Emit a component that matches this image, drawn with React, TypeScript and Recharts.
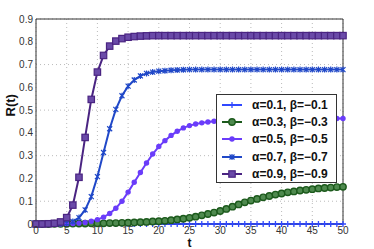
import {
  CartesianGrid,
  Legend,
  Line,
  LineChart,
  ReferenceLine,
  XAxis,
  YAxis,
} from "recharts";

const t = [
  0, 1, 2, 3, 4, 5, 6, 7, 8, 9, 10, 11, 12, 13, 14, 15, 16, 17, 18, 19, 20,
  21, 22, 23, 24, 25, 26, 27, 28, 29, 30, 31, 32, 33, 34, 35, 36, 37, 38, 39,
  40, 41, 42, 43, 44, 45, 46, 47, 48, 49, 50,
];

const a01 = [
  0, 0, 0, 0, 0, 0, 0, 0, 0, 0, 0, 0, 0, 0, 0, 0, 0, 0, 0, 0, 0, 0, 0, 0, 0,
  0, 0, 0, 0, 0, 0, 0, 0, 0, 0, 0, 0, 0, 0, 0, 0, 0, 0, 0, 0, 0, 0, 0, 0, 0, 0,
];

const a03 = [
  0, 0, 0, 0.001, 0.001, 0.001, 0.002, 0.002, 0.002, 0.003, 0.003, 0.003,
  0.004, 0.004, 0.005, 0.006, 0.007, 0.008, 0.009, 0.011, 0.012, 0.014, 0.017,
  0.02, 0.023, 0.027, 0.032, 0.038, 0.044, 0.05, 0.057, 0.066, 0.076, 0.086,
  0.095, 0.103, 0.11, 0.117, 0.123, 0.129, 0.134, 0.139, 0.143, 0.147, 0.15,
  0.153, 0.156, 0.158, 0.16, 0.162, 0.163,
];

const a05 = [
  0, 0, 0, 0, 0, 0.001, 0.002, 0.004, 0.007, 0.012, 0.019, 0.03, 0.046, 0.069,
  0.1, 0.14, 0.183, 0.226, 0.268, 0.307, 0.34, 0.366, 0.389, 0.407, 0.422,
  0.432, 0.439, 0.444, 0.448, 0.451, 0.453, 0.455, 0.456, 0.457, 0.458, 0.459,
  0.46, 0.46, 0.461, 0.461, 0.461, 0.462, 0.462, 0.462, 0.462, 0.462, 0.462,
  0.463, 0.463, 0.463, 0.463,
];

const a07 = [
  0, 0, 0, 0.001, 0.002, 0.004, 0.011, 0.028, 0.062, 0.12, 0.208, 0.314, 0.418,
  0.503, 0.563, 0.605, 0.632, 0.65, 0.661, 0.667, 0.671, 0.673, 0.675, 0.676,
  0.677, 0.678, 0.678, 0.678, 0.678, 0.678, 0.678, 0.678, 0.678, 0.678, 0.678,
  0.678, 0.678, 0.678, 0.678, 0.678, 0.678, 0.678, 0.678, 0.678, 0.678, 0.678,
  0.678, 0.678, 0.678, 0.678, 0.678,
];

const a09 = [
  0, 0, 0.001, 0.003, 0.009, 0.028, 0.083, 0.205, 0.38, 0.547, 0.667, 0.74,
  0.781, 0.803, 0.814, 0.82, 0.823, 0.825, 0.826, 0.827, 0.827, 0.827, 0.827,
  0.827, 0.827, 0.827, 0.827, 0.827, 0.827, 0.827, 0.827, 0.827, 0.827, 0.827,
  0.827, 0.827, 0.827, 0.827, 0.827, 0.827, 0.827, 0.827, 0.827, 0.827, 0.827,
  0.827, 0.827, 0.827, 0.827, 0.827, 0.827,
];

const xTicks = [0, 5, 10, 15, 20, 25, 30, 35, 40, 45, 50];
const yTicks = [0, 0.1, 0.2, 0.3, 0.4, 0.5, 0.6, 0.7, 0.8, 0.9];

const data = t.map((v, i) => ({
  t: v,
  s1: a01[i],
  s3: a03[i],
  s5: a05[i],
  s7: a07[i],
  s9: a09[i],
}));

// marker shapes, roughly like the matlab ones
const Mark = ({ kind, cx, cy, color }: any) => {
  if (cx == null || cy == null) return null;
  if (kind === "plus")
    return (
      <path
        d={`M${cx - 3},${cy}H${cx + 3}M${cx},${cy - 3}V${cy + 3}`}
        stroke={color}
        strokeWidth={1.3}
      />
    );
  if (kind === "ring")
    return <circle cx={cx} cy={cy} r={3.2} fill="#4f8a4f" stroke={color} strokeWidth={1.4} />;
  if (kind === "dot") return <circle cx={cx} cy={cy} r={2.7} fill={color} />;
  if (kind === "star")
    return (
      <path
        d={`M${cx - 2.5},${cy - 2.5}L${cx + 2.5},${cy + 2.5}M${cx - 2.5},${cy + 2.5}L${cx + 2.5},${cy - 2.5}M${cx},${cy - 3}V${cy + 3}`}
        stroke={color}
        strokeWidth={1.2}
      />
    );
  return (
    <rect
      x={cx - 3.2}
      y={cy - 3.2}
      width={6.4}
      height={6.4}
      fill="#6a4aa8"
      stroke={color}
      strokeWidth={1.2}
    />
  );
};

const series = [
  { key: "s1", name: "α=0.1, β=−0.1", color: "#3048ff", kind: "plus" },
  { key: "s3", name: "α=0.3, β=−0.3", color: "#1c5a1c", kind: "ring" },
  { key: "s5", name: "α=0.5, β=−0.5", color: "#6a3cfa", kind: "dot" },
  { key: "s7", name: "α=0.7, β=−0.7", color: "#2048c8", kind: "star" },
  { key: "s9", name: "α=0.9, β=−0.9", color: "#4a2482", kind: "square" },
];

const LegendBox = () => (
  <div
    style={{
      width: 115,
      height: 86,
      boxSizing: "content-box",
      border: "1px solid #333",
      background: "#fff",
      padding: "1px 0 0 4px",
      fontFamily: "'Liberation Sans', Arial, sans-serif",
      fontWeight: "bold",
      fontSize: 12,
      whiteSpace: "nowrap",
      overflow: "hidden",
      textAlign: "left",
    }}
  >
    {series.map((s) => (
      <div key={s.key} style={{ display: "flex", alignItems: "center", height: 17.4 }}>
        <svg width={24} height={10} style={{ marginRight: 7, flex: "none" }}>
          <line x1={1} y1={5} x2={21} y2={5} stroke={s.color} strokeWidth={2} />
          <Mark kind={s.kind} cx={11} cy={5} color={s.color} />
        </svg>
        <span style={{ color: "#111" }}>{s.name}</span>
      </div>
    ))}
  </div>
);

const App = () => {
  return (
    <div style={{ position: "absolute", left: 0, top: 0 }}>
      <LineChart
        width={374}
        height={249}
        data={data}
        margin={{ top: 19, right: 31, left: 8, bottom: 0 }}
        style={{ fontFamily: "'Liberation Sans', Arial, sans-serif" }}
      >
        <CartesianGrid stroke="#bbb" strokeDasharray="1 3" />
        <XAxis
          dataKey="t"
          type="number"
          domain={[0, 50]}
          ticks={xTicks}
          height={25}
          tickLine={false}
          tickSize={2}
          tickMargin={1}
          stroke="#333"
          tick={{ fill: "#333", fontSize: 10 }}
          label={{ value: "t", position: "insideBottom", offset: 2, fontWeight: "bold", fontSize: 12, fill: "#111" }}
        />
        <YAxis
          type="number"
          domain={[0, 0.9]}
          ticks={yTicks}
          width={28}
          tickLine={false}
          tickSize={3}
          tickMargin={0}
          stroke="#333"
          tick={{ fill: "#333", fontSize: 10 }}
          tickFormatter={(v) => (v === 0 ? "0" : v.toFixed(1))}
          label={{ value: "R(t)", angle: -90, position: "insideLeft", offset: 2, dy: -5, fontWeight: "bold", fontSize: 13, fill: "#111" }}
        />
        <ReferenceLine y={0.9} stroke="#333" />
        <ReferenceLine x={50} stroke="#333" />
        {series.map((s) => (
          <Line
            key={s.key}
            dataKey={s.key}
            name={s.name}
            stroke={s.color}
            strokeWidth={2}
            isAnimationActive={false}
            dot={(p: any) => <Mark key={p.index} kind={s.kind} cx={p.cx} cy={p.cy} color={s.color} />}
          />
        ))}
        <Legend
          layout="horizontal"
          verticalAlign="middle"
          align="center"
          content={<LegendBox />}
          wrapperStyle={{ position: "absolute", left: 216, top: 94, width: 120, height: 90 }}
        />
      </LineChart>
    </div>
  );
};

export default App;
